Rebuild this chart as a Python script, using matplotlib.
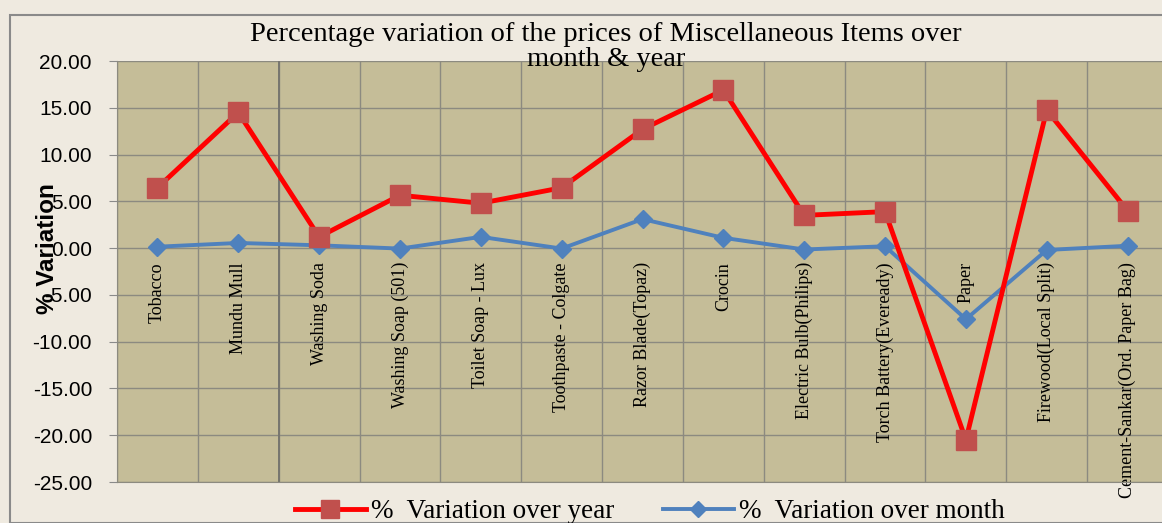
import numpy as np
import matplotlib.pyplot as plt
from matplotlib.lines import Line2D
from matplotlib.patches import Rectangle

items = ['Tobacco', 'Mundu Mull', 'Washing Soda', 'Washing Soap (501)',
         'Toilet Soap - Lux', 'Toothpaste - Colgate', 'Razor Blade(Topaz)',
         'Crocin', 'Electric Bulb(Philips)', 'Torch Battery(Eveready)',
         'Paper', 'Firewood(Local Split)', 'Cement-Sankar(Ord. Paper Bag)']
var_year = [6.45, 14.5, 1.2, 5.65, 4.8, 6.45, 12.7, 16.9, 3.5, 3.9, -20.5, 14.75, 4.0]
var_month = [0.15, 0.55, 0.3, -0.05, 1.2, -0.05, 3.1, 1.1, -0.15, 0.2, -7.6, -0.2, 0.25]
yticks = np.arange(-25, 21, 5)

W, H = 1162, 523
fig = plt.figure(figsize=(W / 100, H / 100), dpi=100)
fig.patch.set_facecolor('#efeae0')
fig.patches.append(Rectangle((10 / W, 0), 1.0, 1 - 15 / H, transform=fig.transFigure,
                             fill=False, edgecolor='#8a8a8a', lw=1.5))

ax = fig.add_axes([117 / W, 1 - 482 / H, 1051 / W, 421 / H])
ax.set_facecolor('#c5bd98')
x = np.arange(len(items))

ax.plot(x, var_year, color='#ff0000', lw=3.5, marker='s', ms=14,
        mfc='#c0504d', mec='#c0504d', zorder=4, label='%  Variation over year')
ax.plot(x, var_month, color='#4f81bd', lw=2.8, marker='D', ms=9,
        mfc='#4f81bd', mec='#4f81bd', zorder=3, label='%  Variation over month')

ax.set_xlim(-0.5, len(items) - 0.5)
ax.set_ylim(-25, 20)
ax.set_yticks(yticks)
ax.set_yticklabels([f'{v:.2f}' for v in yticks], fontsize=15, family='Liberation Sans')
ax.set_xticks(np.arange(-0.5, len(items), 1.0))
ax.set_xticklabels([])
ax.tick_params(axis='x', length=0)
ax.tick_params(axis='y', length=6, color='#8a8a8a', direction='out', pad=12)
ax.grid(True, color='#8c8a80', lw=1)
ax.axvline(1.5, color='#77766f', lw=1.4, zorder=1)
ax.set_axisbelow(True)
for s in ax.spines.values():
    s.set_color('#8c8a80')
ax.spines['top'].set_visible(False)

for i, name in enumerate(items):
    ax.annotate(name, (i, 0), xytext=(0, -10), textcoords='offset points',
                rotation=90, ha='center', va='top', fontsize=13,
                family='Liberation Serif', annotation_clip=False, zorder=2)

fig.text(47 / W, 1 - 249 / H, '% Variation', rotation=90, ha='center', va='center',
         fontsize=17.5, fontweight='bold', family='Liberation Sans')

fig.text(606 / W, 1 - 47 / H,
         'Percentage variation of the prices of Miscellaneous Items over\nmonth & year',
         ha='center', va='center', fontsize=20.5, family='Liberation Serif',
         linespacing=1.0, zorder=10)

handles = [Line2D([], [], color='#ff0000', lw=3.5, marker='s', ms=13, mfc='#c0504d', mec='#c0504d'),
           Line2D([], [], color='#4f81bd', lw=2.8, marker='D', ms=8, mfc='#4f81bd', mec='#4f81bd')]
fig.legend(handles, ['%  Variation over year', '%  Variation over month'],
           loc='center', bbox_to_anchor=(650 / W, 1 - 512 / H), ncol=2, frameon=False,
           prop={'family': 'Liberation Serif', 'size': 19.5}, handlelength=2.6,
           columnspacing=1.8, handletextpad=0.2)

fig.savefig('out.png', dpi=100, facecolor=fig.get_facecolor())
